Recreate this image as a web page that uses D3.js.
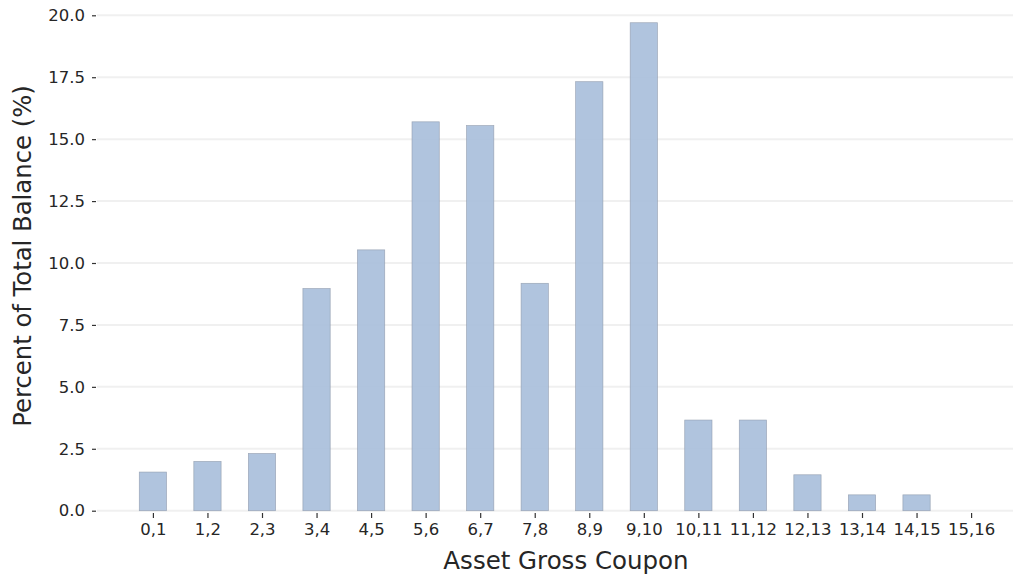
<!DOCTYPE html>
<html>
<head>
<meta charset="utf-8">
<script src="https://cdn.jsdelivr.net/npm/d3@7"></script>
<style>
  html, body { margin: 0; padding: 0; background: #fff; }
  svg { display: block; }
</style>
</head>
<body>
<svg id="chart" width="1013" height="575"></svg>
<script>
const categories = ["0,1","1,2","2,3","3,4","4,5","5,6","6,7","7,8","8,9","9,10","10,11","11,12","12,13","13,14","14,15","15,16"];
const values = [1.56, 1.99, 2.31, 8.97, 10.53, 15.70, 15.55, 9.18, 17.32, 19.70, 3.66, 3.66, 1.45, 0.64, 0.64, 0];
const yTicks = [0, 2.5, 5, 7.5, 10, 12.5, 15, 17.5, 20];
const xLabel = "Asset Gross Coupon";
const yLabel = "Percent of Total Balance (%)";

const svg = d3.select("#chart");
const font = "'DejaVu Sans', sans-serif";

const x = d3.scaleLinear().domain([-1.025, 16.025]).range([97, 1027]);
const y = d3.scaleLinear().domain([0, 20]).range([510.7, 15.3]);
const barW = 0.5;

// grid
svg.append("g").selectAll("line").data(yTicks).join("line")
  .attr("x1", 97).attr("x2", 1013)
  .attr("y1", d => y(d)).attr("y2", d => y(d))
  .attr("stroke", "#f0f0f0").attr("stroke-width", 2);

// bars
svg.append("g").selectAll("rect").data(values).join("rect")
  .attr("x", (d, i) => x(i - barW / 2))
  .attr("width", x(barW) - x(0))
  .attr("y", d => y(d))
  .attr("height", d => y(0) - y(d))
  .attr("fill", "#a9bfdb").attr("fill-opacity", 0.92)
  .attr("stroke", "#8e9aab").attr("stroke-width", 0.7).attr("stroke-opacity", d => d > 0 ? 0.8 : 0);

// y axis
const yAxis = d3.axisLeft(y).tickValues(yTicks).tickFormat(d3.format(".1f")).tickSize(6).tickPadding(6);
const gy = svg.append("g").attr("transform", "translate(97,0)").call(yAxis);
gy.select(".domain").remove();
gy.selectAll(".tick line").attr("stroke", "#333").attr("stroke-width", 1.2).attr("x1", -5).attr("x2", -1);
gy.selectAll(".tick text").attr("font-family", font).attr("font-size", 16.5).attr("fill", "#262626").attr("x", -12);

// x axis
const xAxis = d3.axisBottom(x).tickValues(d3.range(categories.length)).tickFormat(i => categories[i]).tickSize(6).tickPadding(6);
const gx = svg.append("g").attr("transform", "translate(0,511)").call(xAxis);
gx.select(".domain").remove();
gx.selectAll(".tick line").attr("stroke", "#333").attr("stroke-width", 1.2).attr("y1", 2).attr("y2", 7);
gx.selectAll(".tick text").attr("font-family", font).attr("font-size", 16.5).attr("fill", "#262626").attr("y", 12);

// labels
svg.append("text").attr("x", 566).attr("y", 569).attr("text-anchor", "middle")
  .attr("font-family", font).attr("font-size", 24.5).attr("fill", "#262626").text(xLabel);
svg.append("text").attr("transform", "translate(31,256) rotate(-90)").attr("text-anchor", "middle")
  .attr("font-family", font).attr("font-size", 24.3).attr("fill", "#262626").text(yLabel);
</script>
</body>
</html>
